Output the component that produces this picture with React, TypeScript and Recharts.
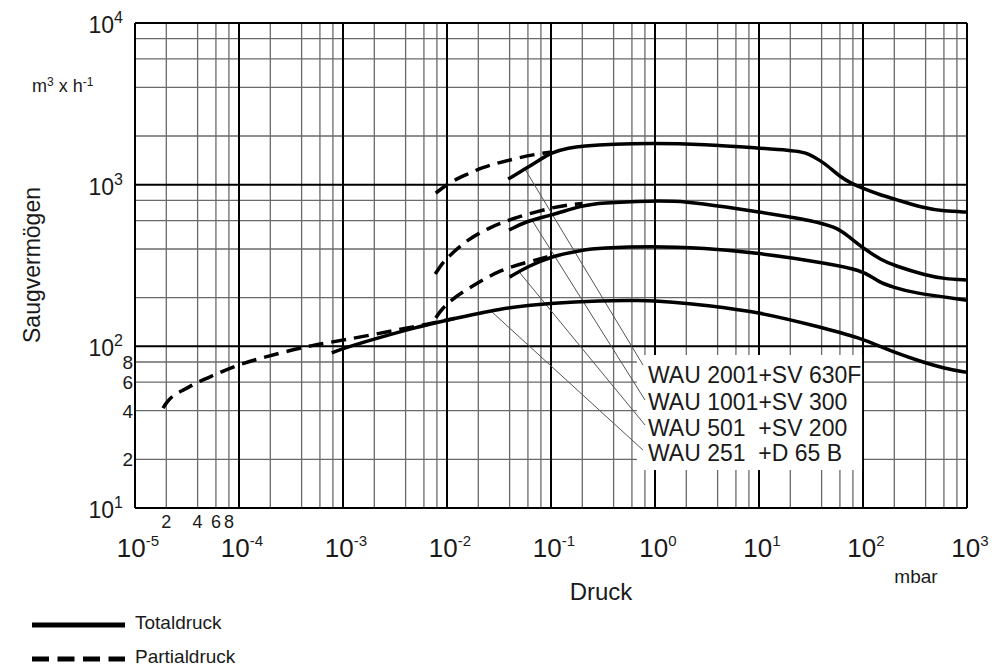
import {
  LineChart,
  Line,
  XAxis,
  YAxis,
  CartesianGrid,
  ReferenceArea,
  ReferenceLine,
  ReferenceDot,
  Legend,
  Label,
} from "recharts"

// grid + tick values
const xDecades = [1e-5, 1e-4, 1e-3, 1e-2, 1e-1, 1, 10, 100, 1000]
const xExponents = ["-5", "-4", "-3", "-2", "-1", "0", "1", "2", "3"]
const yDecades = [10, 100, 1000, 10000]
const yExponents = ["1", "2", "3", "4"]
const minorSteps = [2, 4, 6, 8]
const xMinorTicks = [2e-5, 4e-5, 6e-5, 8e-5]
const yMinorTicks = [20, 40, 60, 80]
const minorDigits = ["2", "4", "6", "8"]

const xMinor = xDecades.slice(0, -1).flatMap((d) => minorSteps.map((m) => d * m))
const yMinor = yDecades.slice(0, -1).flatMap((d) => minorSteps.map((m) => d * m))

// [pressure mbar, pumping speed m3/h]
const wau2001Total = [
  [0.0387, 1083], [0.056, 1250], [0.075, 1400], [0.1, 1580], [0.15, 1690], [0.2, 1733],
  [0.4, 1785], [0.9, 1808], [3, 1780], [10, 1683], [20, 1630], [26, 1590], [30, 1550],
  [38, 1420], [45, 1320], [60, 1120], [75, 1030], [100, 945], [150, 860], [200, 815],
  [380, 717], [600, 685], [1000, 677],
]
const wau2001Partial = [
  [0.0078, 887], [0.0107, 1038], [0.015, 1146], [0.0222, 1285], [0.032, 1370],
  [0.047, 1459], [0.07, 1540], [0.1, 1590],
]
const wau1001Total = [
  [0.0395, 524], [0.06, 600], [0.1, 645], [0.2, 745], [0.3, 772], [0.9, 795], [2, 790],
  [5, 725], [10, 679], [20, 630], [30, 604], [55, 547], [70, 488], [100, 405], [150, 342],
  [200, 316], [400, 275], [600, 262], [1000, 257],
]
const wau1001Partial = [
  [0.0077, 280], [0.009, 327], [0.0107, 367], [0.0155, 454], [0.0259, 547], [0.047, 630],
  [0.1, 720], [0.15, 752], [0.2, 765],
]
const wau501Total = [
  [0.04, 268], [0.06, 312], [0.1, 360], [0.2, 395], [0.3, 405], [0.9, 417], [3, 405],
  [10, 378], [45, 327], [97, 295], [127, 264], [150, 246], [194, 233], [300, 214],
  [1000, 193],
]
const wau501Partial = [
  [0.0078, 150], [0.009, 172], [0.0119, 202], [0.0195, 246], [0.0324, 296], [0.059, 332],
  [0.1, 362],
]
const wau251Total = [
  [0.00078, 91], [0.001, 97], [0.002, 111], [0.005, 131], [0.01, 145], [0.032, 172],
  [0.1, 185], [0.3, 192], [0.7, 193], [1.5, 188], [3, 180], [10, 163], [38, 132],
  [97, 112], [150, 99], [200, 92], [330, 82], [600, 73], [1000, 69],
]
const wau251Partial = [
  [1.86e-5, 41.5], [2e-5, 44.7], [2.32e-5, 50], [3e-5, 54], [3.95e-5, 60], [6e-5, 67],
  [1e-4, 77.7], [2.48e-4, 91], [5.1e-4, 101.8], [0.001, 109], [0.0033, 126],
  [0.0079, 141], [0.012, 149],
]

// annotation box with model names and leader lines
const modelNames = ["WAU 2001+SV 630F", "WAU 1001+SV 300", "WAU 501  +SV 200", "WAU 251  +D 65 B"]
const nameX = 0.857
const nameY = [66.4, 45.2, 31.2, 21.9]
const leaderFrom = [[0.0562, 1248], [0.0656, 604], [0.0504, 284], [0.0271, 163]]
const leaderTo = [[0.767, 76.6], [0.802, 46.5], [0.802, 32.6], [0.767, 22.8]]
const boxX = [0.67, 98]
const boxY = [17.2, 88.4]

const rows = (pairs: number[][]) => pairs.map(([p, s]) => ({ p, s }))

const ink = "#1a1a1a"

function XTick({ x, payload }: any) {
  const v = payload.value
  const i = xDecades.indexOf(v)
  if (i >= 0) {
    return (
      <text x={x + 3} y={557} textAnchor="middle" fontSize={26} fill={ink}>
        <tspan>10</tspan>
        <tspan dy={-11} fontSize={15}>{xExponents[i]}</tspan>
      </text>
    )
  }
  const j = xMinorTicks.indexOf(v)
  return (
    <text x={x} y={528} textAnchor="middle" fontSize={18} fill={ink}>
      {minorDigits[j]}
    </text>
  )
}

function YTick({ y, payload }: any) {
  const v = payload.value
  const i = yDecades.indexOf(v)
  if (i >= 0) {
    return (
      <text x={123} y={y + 10} textAnchor="end" fontSize={23} fill={ink}>
        <tspan>10</tspan>
        <tspan dy={-10} fontSize={16}>{yExponents[i]}</tspan>
      </text>
    )
  }
  const j = yMinorTicks.indexOf(v)
  return (
    <text x={133} y={y + 7} textAnchor="end" fontSize={19} fill={ink}>
      {minorDigits[j]}
    </text>
  )
}

const series = [
  { key: "t2001", data: wau2001Total, dashed: false },
  { key: "p2001", data: wau2001Partial, dashed: true },
  { key: "t1001", data: wau1001Total, dashed: false },
  { key: "p1001", data: wau1001Partial, dashed: true },
  { key: "t501", data: wau501Total, dashed: false },
  { key: "p501", data: wau501Partial, dashed: true },
  { key: "t251", data: wau251Total, dashed: false },
  { key: "p251", data: wau251Partial, dashed: true },
]

function LegendBox() {
  return (
    <svg width={320} height={60} style={{ display: "block", overflow: "visible" }}>
      <line x1={32} x2={125} y1={20} y2={20} stroke="#000" strokeWidth={5} />
      <text x={135} y={24} fontSize={19} fill={ink}>Totaldruck</text>
      <line x1={32} x2={125} y1={54} y2={54} stroke="#000" strokeWidth={5} strokeDasharray="17 8.5" />
      <text x={135} y={58} fontSize={19} fill={ink}>Partialdruck</text>
    </svg>
  )
}

export default function App() {
  return (
    <div
      style={{
        position: "absolute",
        left: 0,
        top: 0,
        width: 1000,
        height: 667,
        background: "#fff",
        fontFamily: "'Liberation Sans', Arial, Helvetica, sans-serif",
      }}
    >
      <LineChart width={1000} height={667} margin={{ top: 23, right: 33, left: 15, bottom: 99 }}>
        <CartesianGrid verticalValues={xMinor} horizontalValues={yMinor} stroke="#6a6a6a" strokeWidth={1.3} />
        <CartesianGrid verticalValues={xDecades} horizontalValues={yDecades} stroke="#000" strokeWidth={2} />
        <XAxis
          type="number"
          dataKey="p"
          scale="log"
          domain={[1e-5, 1000]}
          ticks={[...xMinorTicks, ...xDecades]}
          interval={0}
          allowDataOverflow
          axisLine={false}
          tickLine={false}
          height={60}
          tick={XTick}
        >
          <Label
            content={() => (
              <g>
                <text x={601} y={600} textAnchor="middle" fontSize={24} fill={ink}>Druck</text>
                <text x={916} y={583} textAnchor="middle" fontSize={19} fill={ink}>mbar</text>
              </g>
            )}
          />
        </XAxis>
        <YAxis
          type="number"
          dataKey="s"
          scale="log"
          domain={[10, 10000]}
          ticks={[...yDecades, ...yMinorTicks]}
          interval={0}
          allowDataOverflow
          axisLine={false}
          tickLine={false}
          width={120}
          tick={YTick}
        >
          <Label
            content={() => (
              <g>
                <text
                  x={40}
                  y={265}
                  transform="rotate(-90 40 265)"
                  textAnchor="middle"
                  fontSize={23}
                  fill={ink}
                >
                  Saugvermögen
                </text>
                <text x={32} y={92} fontSize={18} fill={ink}>
                  m<tspan dy={-6} fontSize={12}>3</tspan>
                  <tspan dy={6}> x h</tspan>
                  <tspan dy={-6} fontSize={12}>-1</tspan>
                </text>
              </g>
            )}
          />
        </YAxis>

        <ReferenceArea x1={boxX[0]} x2={boxX[1]} y1={boxY[0]} y2={boxY[1]} fill="#fff" fillOpacity={1} stroke="none" />

        {leaderFrom.map((f, i) => (
          <ReferenceLine
            key={"lead" + i}
            segment={[
              { x: f[0], y: f[1] },
              { x: leaderTo[i][0], y: leaderTo[i][1] },
            ]}
            stroke="#555"
            strokeWidth={1}
          />
        ))}

        {series.map((s) => (
          <Line
            key={s.key}
            data={rows(s.data)}
            dataKey="s"
            type="basis"
            stroke="#000"
            strokeWidth={3.5}
            strokeDasharray={s.dashed ? "15 8" : undefined}
            dot={false}
            activeDot={false}
            isAnimationActive={false}
          />
        ))}

        {modelNames.map((name, i) => (
          <ReferenceDot
            key={name}
            x={nameX}
            y={nameY[i]}
            r={0}
            shape={(p: any) => (
              <text x={p.cx} y={p.cy} dy="0.36em" fontSize={23} fill={ink} style={{ whiteSpace: "pre" }}>
                {name}
              </text>
            )}
          />
        ))}

        <Legend
          verticalAlign="middle"
          align="center"
          layout="horizontal"
          wrapperStyle={{ left: 0, top: 605, width: 320, height: 60 }}
          content={() => <LegendBox />}
        />
      </LineChart>
    </div>
  )
}
